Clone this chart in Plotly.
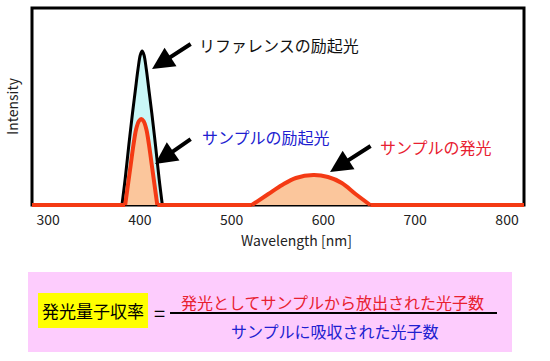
import plotly.graph_objects as go

# ---- data ----
ref_wl = [380.5, 384, 388, 392, 395, 398, 400.5, 402.5, 404.5, 407, 410, 413, 417, 421, 424.5]
ref_int = [0, 0.13, 0.30, 0.46, 0.57, 0.68, 0.75, 0.77, 0.75, 0.68, 0.57, 0.46, 0.30, 0.13, 0]

exc_wl = [384, 387, 390, 393, 396, 399, 401.5, 404, 407, 410, 413, 416, 419]
exc_int = [0, 0.10, 0.20, 0.30, 0.38, 0.42, 0.43, 0.42, 0.38, 0.30, 0.20, 0.10, 0]

em_wl = [522, 540, 555, 570, 589, 605, 620, 635, 651]
em_int = [0, 0.055, 0.10, 0.135, 0.15, 0.14, 0.11, 0.055, 0]

base_wl = [270, 384, None, 419, 522, None, 651, 830]
base_int = [0, 0, None, 0, 0, None, 0, 0]

x_ticks = [300, 400, 500, 600, 700, 800]

# arrows: (head_wl, head_int, tail_wl, tail_int)
arrows = [
    (413.3, 0.68, 457.0, 0.81),
    (416.6, 0.205, 457.0, 0.335),
    (607.2, 0.165, 653.0, 0.30),
]
labels = [
    ("リファレンスの励起光", 462.0, 0.80, "#111111"),
    ("サンプルの励起光", 465.0, 0.34, "#2020d0"),
    ("サンプルの発光", 659.5, 0.29, "#e82030"),
]

FONT = "Noto Sans CJK JP"
RED = "#f43a14"
PEACH = "#fbc69c"
CYAN = "#c9f7f7"

fig = go.Figure()

fig.add_trace(go.Scatter(x=ref_wl, y=ref_int, mode="lines", line=dict(color="black", width=3, shape="spline", smoothing=1.0),
                         fill="tozeroy", fillcolor=CYAN, hoverinfo="skip"))
fig.add_trace(go.Scatter(x=exc_wl, y=exc_int, mode="lines", line=dict(color=RED, width=4, shape="spline", smoothing=1.0),
                         fill="tozeroy", fillcolor=PEACH, hoverinfo="skip"))
fig.add_trace(go.Scatter(x=em_wl, y=em_int, mode="lines", line=dict(color=RED, width=4, shape="spline", smoothing=1.0),
                         fill="tozeroy", fillcolor=PEACH, hoverinfo="skip"))
fig.add_trace(go.Scatter(x=base_wl, y=base_int, mode="lines", line=dict(color=RED, width=4), connectgaps=False, hoverinfo="skip"))

# frame
fig.add_shape(type="rect", xref="paper", yref="paper", x0=0, x1=1, y0=0.01, y1=0.995,
              line=dict(color="black", width=3), layer="below")

for hx, hy, tx, ty in arrows:
    fig.add_annotation(x=hx, y=hy, ax=tx, ay=ty, xref="x", yref="y", axref="x", ayref="y",
                       text="", showarrow=True, arrowhead=2, arrowsize=1.1, arrowwidth=4, arrowcolor="black")
for txt, lx, ly, col in labels:
    fig.add_annotation(x=lx, y=ly, xref="x", yref="y", text=txt, showarrow=False, xanchor="left", yanchor="middle",
                       font=dict(family=FONT, size=16, color=col))

# axis titles
fig.add_annotation(x=0.5366, y=-0.165, xref="paper", yref="paper", text="Wavelength [nm]", showarrow=False,
                   xanchor="center", yanchor="middle", font=dict(family=FONT, size=14, color="#222222"))
fig.add_annotation(x=-0.0407, y=0.505, xref="paper", yref="paper", text="Intensity", showarrow=False, textangle=-90,
                   xanchor="center", yanchor="middle", font=dict(family=FONT, size=14, color="#222222"))

# formula box
fig.add_shape(type="rect", xref="paper", yref="paper", x0=-0.0081, x1=0.9756, y0=-0.725, y1=-0.325,
              fillcolor="#fdccfd", line=dict(width=0), layer="below")
fig.add_shape(type="rect", xref="paper", yref="paper", x0=0.0122, x1=0.2358, y0=-0.605, y1=-0.43,
              fillcolor="#ffff00", line=dict(width=0), layer="below")
fig.add_annotation(x=0.124, y=-0.518, xref="paper", yref="paper", text="発光量子収率", showarrow=False,
                   xanchor="center", yanchor="middle", font=dict(family=FONT, size=17, color="black"))
fig.add_annotation(x=0.260, y=-0.525, xref="paper", yref="paper", text="=", showarrow=False,
                   xanchor="center", yanchor="middle", font=dict(family=FONT, size=20, color="black"))
fig.add_shape(type="line", xref="paper", yref="paper", x0=0.2805, x1=0.9451, y0=-0.53, y1=-0.53,
              line=dict(color="black", width=2))
fig.add_annotation(x=0.6098, y=-0.475, xref="paper", yref="paper", text="発光としてサンプルから放出された光子数", showarrow=False,
                   xanchor="center", yanchor="middle", font=dict(family=FONT, size=16, color="#e82030"))
fig.add_annotation(x=0.6159, y=-0.62, xref="paper", yref="paper", text="サンプルに吸収された光子数", showarrow=False,
                   xanchor="center", yanchor="middle", font=dict(family=FONT, size=16, color="#2020d0"))

fig.update_layout(
    width=550, height=361,
    margin=dict(l=32, r=26, t=7, b=154),
    paper_bgcolor="white", plot_bgcolor="white",
    showlegend=False,
    font=dict(family=FONT),
)
fig.update_xaxes(range=[282.5, 818.5], tickvals=x_ticks, showgrid=False, zeroline=False, showline=False,
                 ticks="", ticklabelstandoff=3, tickfont=dict(family=FONT, size=14, color="#222222"))
fig.update_yaxes(range=[-0.01, 0.99], showticklabels=False, showgrid=False, zeroline=False, showline=False, ticks="")

fig.write_html("out.html", config={"displayModeBar": False},
               post_script="document.body.style.margin='0';document.body.style.overflow='hidden';")
